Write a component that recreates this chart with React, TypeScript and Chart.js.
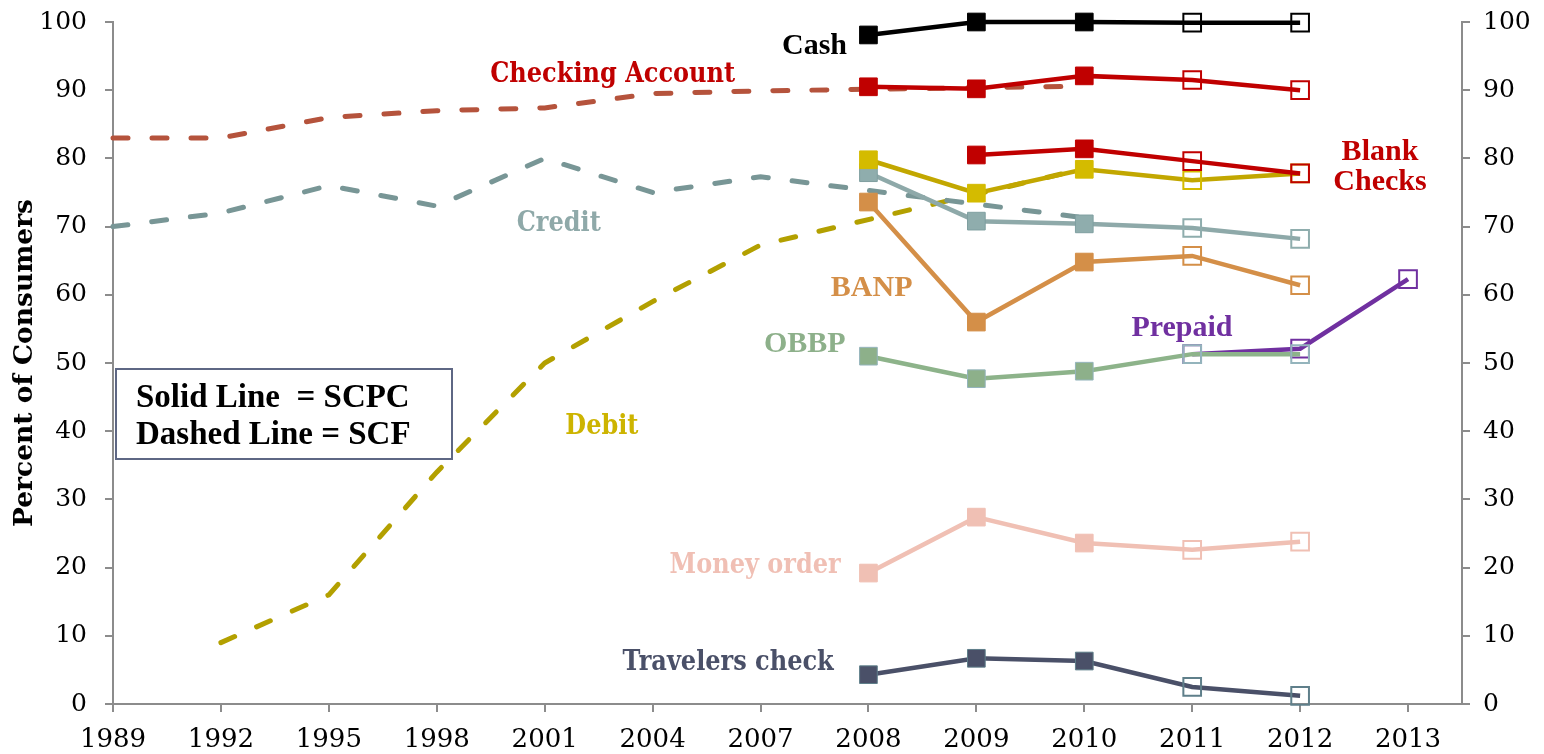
import React, { useEffect, useRef } from "react";
import { Chart, registerables } from "chart.js";

Chart.register(...registerables);

// ---------- data ----------
const years = ["1989", "1992", "1995", "1998", "2001", "2004", "2007", "2008", "2009", "2010", "2011", "2012", "2013"];
const yTickValues = [0, 10, 20, 30, 40, 50, 60, 70, 80, 90, 100];

// SCF (dashed) – triennial survey
const checkingSCF = [83, 83, 86, 87, 87.4, 89.5, 89.9, null, null, 90.6, null, null, null];
const creditSCF = [70, 72, 76, 73, 80, 75, 77.3, null, null, 71.3, null, null, null];
const debitSCF = [null, 9, 16, 34, 50, 59, 67.3, null, null, 78.5, null, null, null];

// SCPC (solid)
const cash = [null, null, null, null, null, null, null, 98.1, 100, 100, 99.9, 99.9, null];
const checkingSCPC = [null, null, null, null, null, null, null, 90.5, 90.2, 92.1, 91.5, 90.0, null];
const blankChecks = [null, null, null, null, null, null, null, null, 80.5, 81.4, 79.6, 77.8, null];
const debitSCPC = [null, null, null, null, null, null, null, 79.8, 74.9, 78.4, 76.8, 77.8, null];
const creditSCPC = [null, null, null, null, null, null, null, 77.9, 70.8, 70.4, 69.8, 68.2, null];
const banp = [null, null, null, null, null, null, null, 73.6, 56.0, 64.8, 65.7, 61.4, null];
const obbp = [null, null, null, null, null, null, null, 51.0, 47.7, 48.8, 51.3, 51.3, null];
const prepaid = [null, null, null, null, null, null, null, null, null, null, 51.3, 52.1, 62.3];
const moneyOrder = [null, null, null, null, null, null, null, 19.2, 27.4, 23.6, 22.6, 23.8, null];
const travelers = [null, null, null, null, null, null, null, 4.3, 6.7, 6.3, 2.5, 1.2, null];

const legendLines = ["Solid Line  = SCPC", "Dashed Line = SCF"];

// ---------- styling ----------
const SERIF = '"DejaVu Serif", serif';
const TIMES = '"Liberation Serif", "Times New Roman", serif';
const AXIS_GRAY = "#8c8c8c";
const HOLLOW_FROM = 10; // index of 2011: hollow markers from here on

type Ann = { text: string; x: number; y: number; color: string; font: string; sx: number };
const annotations: Ann[] = [
  { text: "Cash", x: 6.5, y: 96.4, color: "#000000", font: `bold 30px ${TIMES}`, sx: 1 },
  { text: "Checking Account", x: 4.63, y: 92.3, color: "#c00000", font: `bold 27px ${SERIF}`, sx: 0.89 },
  { text: "Blank", x: 11.74, y: 80.9, color: "#c00000", font: `bold 30px ${TIMES}`, sx: 1 },
  { text: "Checks", x: 11.74, y: 76.5, color: "#c00000", font: `bold 30px ${TIMES}`, sx: 1 },
  { text: "Credit", x: 4.13, y: 70.4, color: "#8fa9a9", font: `bold 27px ${SERIF}`, sx: 0.89 },
  { text: "BANP", x: 7.03, y: 60.9, color: "#d48f48", font: `bold 30px ${TIMES}`, sx: 1 },
  { text: "OBBP", x: 6.41, y: 52.8, color: "#8db08a", font: `bold 30px ${TIMES}`, sx: 1 },
  { text: "Prepaid", x: 9.905, y: 55.1, color: "#7030a0", font: `bold 30px ${TIMES}`, sx: 1 },
  { text: "Debit", x: 4.53, y: 40.6, color: "#cdb400", font: `bold 27px ${SERIF}`, sx: 0.89 },
  { text: "Money order", x: 5.95, y: 20.2, color: "#f0bfb4", font: `bold 27px ${SERIF}`, sx: 0.89 },
  { text: "Travelers check", x: 5.7, y: 6.0, color: "#4a5068", font: `bold 27px ${SERIF}`, sx: 0.89 },
];

const toPoints = (vals: (number | null)[]) =>
  vals.map((v, i) => ({ x: i, y: v })).filter((p) => p.y !== null);

function solid(label: string, vals: (number | null)[], line: string, fill: string, edge: string, hollow: string) {
  return {
    label,
    data: toPoints(vals),
    clip: false,
    borderColor: line,
    borderWidth: 4.5,
    tension: 0,
    pointStyle: "rect",
    pointRadius: 12.5,
    pointHoverRadius: 12.5,
    pointBackgroundColor: (c: any) => (c.raw && c.raw.x >= HOLLOW_FROM ? "rgba(0,0,0,0)" : fill),
    pointBorderColor: (c: any) => (c.raw && c.raw.x >= HOLLOW_FROM ? hollow : edge),
    pointBorderWidth: (c: any) => (c.raw && c.raw.x >= HOLLOW_FROM ? 2 : 1),
  };
}

function dashed(label: string, vals: (number | null)[], color: string) {
  return {
    label,
    data: toPoints(vals),
    clip: false,
    borderColor: color,
    borderWidth: 5,
    borderDash: [15, 24],
    borderCapStyle: "round",
    tension: 0,
    pointRadius: 0,
    pointHoverRadius: 0,
  };
}

const annotationPlugin = {
  id: "annotationsAndKey",
  afterDatasetsDraw(chart: any) {
    const { ctx, scales } = chart;
    const xs = scales.x;
    const ys = scales.y;
    ctx.save();
    ctx.textAlign = "center";
    ctx.textBaseline = "middle";
    annotations.forEach((a) => {
      ctx.save();
      ctx.font = a.font;
      ctx.fillStyle = a.color;
      ctx.translate(xs.getPixelForValue(a.x), ys.getPixelForValue(a.y));
      ctx.scale(a.sx, 1);
      ctx.fillText(a.text, 0, 0);
      ctx.restore();
    });
    // key box
    const bx = 116, by = 369, bw = 336, bh = 90;
    ctx.fillStyle = "#ffffff";
    ctx.fillRect(bx, by, bw, bh);
    ctx.strokeStyle = "#5e6784";
    ctx.lineWidth = 2;
    ctx.strokeRect(bx, by, bw, bh);
    ctx.fillStyle = "#000000";
    ctx.font = `bold 33px ${TIMES}`;
    ctx.textAlign = "left";
    ctx.textBaseline = "alphabetic";
    ctx.fillText(legendLines[0], 136, 407);
    ctx.fillText(legendLines[1], 136, 444);
    ctx.restore();
  },
};

export default function App() {
  const ref = useRef<HTMLCanvasElement | null>(null);

  useEffect(() => {
    if (!ref.current) return;
    const yTickFont = { family: SERIF, size: 25 };
    const xTickFont = { family: SERIF, size: 26 };
    const yAxisCommon = (pos: "left" | "right", width: number, pad: number) => ({
      type: "linear",
      position: pos,
      min: 0,
      max: 100,
      afterBuildTicks: (s: any) => {
        s.ticks = yTickValues.map((v) => ({ value: v }));
      },
      ticks: { font: yTickFont, color: "#000", padding: pad },
      grid: { drawOnChartArea: false, drawTicks: true, tickLength: 8, color: AXIS_GRAY, lineWidth: 2 },
      border: { color: AXIS_GRAY, width: 2 },
      afterFit: (s: any) => {
        s.width = width;
        s.paddingTop = 0;
        s.paddingBottom = 0;
      },
    });

    const chart = new Chart(ref.current, {
      type: "line",
      data: {
        datasets: [
          solid("Cash", cash, "#000000", "#000000", "#000000", "#000000"),
          solid("Checking Account (SCPC)", checkingSCPC, "#c00000", "#c00000", "#c00000", "#c00000"),
          solid("Blank Checks", blankChecks, "#c00000", "#c00000", "#c00000", "#c00000"),
          solid("Debit (SCPC)", debitSCPC, "#c2a700", "#d4bb00", "#d4bb00", "#d4bb00"),
          solid("Credit (SCPC)", creditSCPC, "#8ea9a9", "#8fadad", "#7f9fa0", "#8fadad"),
          solid("BANP", banp, "#d48f48", "#d48f48", "#d48f48", "#d48f48"),
          solid("OBBP", obbp, "#8db38a", "#8db08a", "#94b4bc", "#94b4bc"),
          solid("Prepaid", prepaid, "#7030a0", "#7030a0", "#7030a0", "#7030a0"),
          solid("Money order", moneyOrder, "#f0c0b4", "#f0c0b4", "#f0c0b4", "#f0c0b4"),
          solid("Travelers check", travelers, "#4a5068", "#4a5068", "#5f7f8a", "#5f7f8a"),
          dashed("Checking Account (SCF)", checkingSCF, "#b5533c"),
          dashed("Credit (SCF)", creditSCF, "#789696"),
          dashed("Debit (SCF)", debitSCF, "#b3a000"),
        ] as any,
      },
      options: {
        animation: false,
        responsive: false,
        layout: { padding: { top: 22, left: 0, right: 0, bottom: 0 } },
        plugins: { legend: { display: false }, tooltip: { enabled: false }, title: { display: false } },
        events: [],
        scales: {
          x: {
            type: "linear",
            min: 0,
            max: 12.5,
            afterBuildTicks: (s: any) => {
              s.ticks = years.map((_, i) => ({ value: i }));
            },
            ticks: {
              font: xTickFont,
              color: "#000",
              padding: 13,
              autoSkip: false,
              maxRotation: 0,
              callback: (v: any) => years[Number(v)] ?? "",
            },
            grid: { drawOnChartArea: false, drawTicks: true, tickLength: 8, color: AXIS_GRAY, lineWidth: 2 },
            border: { color: AXIS_GRAY, width: 2 },
            afterFit: (s: any) => {
              s.height = 50;
              s.paddingLeft = 0;
              s.paddingRight = 0;
            },
          },
          y: {
            ...yAxisCommon("left", 113, 18),
            title: {
              display: true,
              text: "Percent of Consumers",
              color: "#000",
              font: { family: SERIF, size: 26.5, weight: "bold" },
              padding: { top: 9, bottom: 0 },
            },
          },
          y2: yAxisCommon("right", 82, 13),
        } as any,
      },
      plugins: [annotationPlugin],
    });
    return () => chart.destroy();
  }, []);

  return (
    <div style={{ position: "absolute", left: 0, top: 0, width: 1544, height: 754, background: "#fff" }}>
      <canvas ref={ref} width={1544} height={754} style={{ display: "block" }} />
    </div>
  );
}
